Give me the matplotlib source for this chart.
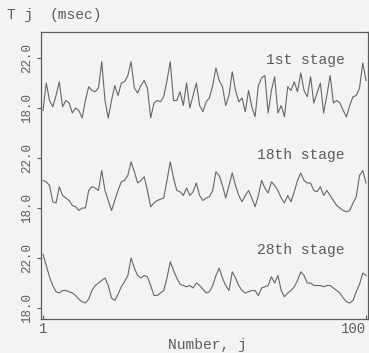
import numpy as np
import matplotlib
matplotlib.use("Agg")
import matplotlib.pyplot as plt

# Tj (msec) for each number j = 1..100, three stages
number = np.arange(1, 101)

stage1 = [17.8, 20.0, 18.6, 18.1, 19.0, 20.1, 18.1, 18.6, 18.4, 17.6,
          18.0, 17.8, 17.2, 18.6, 19.7, 19.4, 19.3, 19.6, 21.7, 18.6,
          17.2, 18.6, 19.8, 19.0, 20.0, 20.1, 20.6, 21.7, 19.6, 19.2,
          19.8, 20.2, 19.6, 17.2, 18.4, 18.6, 18.5, 18.9, 20.2, 21.7,
          18.6, 18.6, 19.3, 18.2, 20.0, 18.0, 19.0, 20.0, 18.2, 17.7,
          18.5, 18.8, 19.8, 21.2, 20.2, 19.7, 18.2, 19.0, 20.9, 19.4,
          18.5, 18.8, 17.7, 19.4, 18.1, 17.3, 19.8, 20.4, 20.6, 17.6,
          19.4, 20.5, 17.6, 18.2, 17.3, 19.7, 19.4, 20.1, 19.3, 20.8,
          19.4, 18.9, 20.5, 18.4, 19.2, 20.0, 17.6, 19.0, 20.6, 18.4,
          18.6, 18.4, 17.8, 17.3, 18.2, 18.9, 19.0, 19.6, 21.6, 20.2]

stage18 = [20.2, 20.1, 19.8, 18.5, 18.4, 19.7, 19.0, 18.8, 18.6, 18.2,
           18.1, 17.8, 18.0, 18.0, 19.4, 19.7, 19.6, 19.4, 21.0, 19.4,
           18.6, 17.8, 18.6, 19.4, 20.1, 20.2, 20.6, 21.7, 20.9, 20.0,
           20.2, 20.5, 19.4, 18.1, 18.4, 18.6, 18.7, 18.8, 20.2, 21.7,
           20.4, 19.4, 19.3, 19.0, 19.6, 19.0, 19.3, 20.0, 19.0, 18.6,
           18.8, 18.9, 19.4, 20.9, 20.6, 19.8, 18.8, 19.8, 20.8, 19.8,
           19.0, 18.5, 19.0, 19.4, 18.8, 18.1, 19.0, 20.2, 19.6, 19.2,
           20.1, 19.8, 19.4, 18.8, 18.4, 19.0, 18.5, 19.3, 20.2, 20.8,
           20.2, 20.0, 20.0, 19.4, 19.3, 19.7, 19.0, 19.4, 19.0, 18.6,
           18.2, 18.0, 17.8, 17.7, 17.8, 18.4, 18.9, 20.6, 21.0, 20.0]

stage28 = [22.3, 21.4, 20.5, 19.8, 19.3, 19.2, 19.4, 19.4, 19.3, 19.2,
           19.0, 18.7, 18.5, 18.4, 18.7, 19.4, 19.8, 20.0, 20.2, 20.4,
           19.8, 18.8, 18.6, 19.1, 19.7, 20.1, 20.6, 22.0, 21.2, 20.6,
           20.4, 20.6, 20.5, 19.8, 19.0, 19.0, 19.2, 19.4, 20.4, 21.7,
           21.0, 20.4, 19.9, 19.8, 19.7, 19.8, 19.6, 20.0, 19.8, 19.5,
           19.2, 19.3, 19.8, 20.6, 21.2, 20.4, 19.8, 19.4, 20.9, 20.4,
           19.8, 19.4, 19.2, 19.3, 19.4, 19.4, 19.0, 19.6, 19.7, 19.8,
           20.5, 20.0, 20.6, 19.4, 18.9, 19.2, 19.4, 19.7, 20.2, 20.9,
           20.6, 20.0, 20.0, 19.8, 19.8, 19.8, 19.7, 19.8, 19.8, 19.6,
           19.4, 19.2, 18.8, 18.5, 18.4, 18.6, 19.3, 19.9, 20.8, 20.6]

stage_names = ["1st stage", "18th stage", "28th stage"]
stage_series = [stage1, stage18, stage28]
stage_offsets = [16.0, 8.0, 0.0]      # vertical stacking of the three traces
name_levels = [21.84, 22.24, 22.64]   # height of each stage name within its band
tick_values = [18.0, 22.0]
x_ticks = [1, 100]

ink = "#5c5c5c"
paper = "#f3f3f1"
mono = ["Liberation Mono", "DejaVu Sans Mono"]

fig = plt.figure(figsize=(3.69, 3.53), dpi=100, facecolor=paper)
ax = fig.add_axes([41 / 369, 1 - 319 / 353, 327 / 369, 287 / 353], facecolor=paper)

for name, series, off, lev in zip(stage_names, stage_series, stage_offsets, name_levels):
    ax.plot(number, np.asarray(series) + off, color="#666666", lw=0.8)
    ax.text(93.5, lev + off, name, ha="right", va="center",
            fontsize=10.5, family=mono, color=ink)

yt, yl = [], []
for off in stage_offsets[::-1]:
    for v in tick_values:
        yt.append(v + off)
        yl.append(f"{v:.1f}")
ax.set_yticks(yt)
ax.set_yticklabels(yl, rotation=90, va="center", family=mono, fontsize=9, color=ink)

ax.set_xticks(x_ticks)
xl = ax.set_xticklabels([str(t) for t in x_ticks], family=mono, fontsize=10, color=ink)
xl[-1].set_ha("right")

ax.set_xlim(0.39, 100.6)
ax.set_ylim(17.12, 40.08)
ax.tick_params(axis="both", direction="out", length=3, width=0.8, color=ink, pad=3)
ax.tick_params(axis="x", direction="in", pad=2)
for s in ax.spines.values():
    s.set_color(ink)
    s.set_linewidth(0.9)

fig.text(207 / 369, 1 - 345 / 353, "Number, j", family=mono, fontsize=10.5,
         color=ink, ha="center", va="center")

fig.text(7 / 369, 1 - 15 / 353, "T j", family=mono, fontsize=10.5, color=ink,
         ha="left", va="center")
fig.text(50 / 369, 1 - 15 / 353, "(msec)", family=mono, fontsize=10.5, color=ink,
         ha="left", va="center")

fig.savefig("out.png", dpi=100, facecolor=paper)
